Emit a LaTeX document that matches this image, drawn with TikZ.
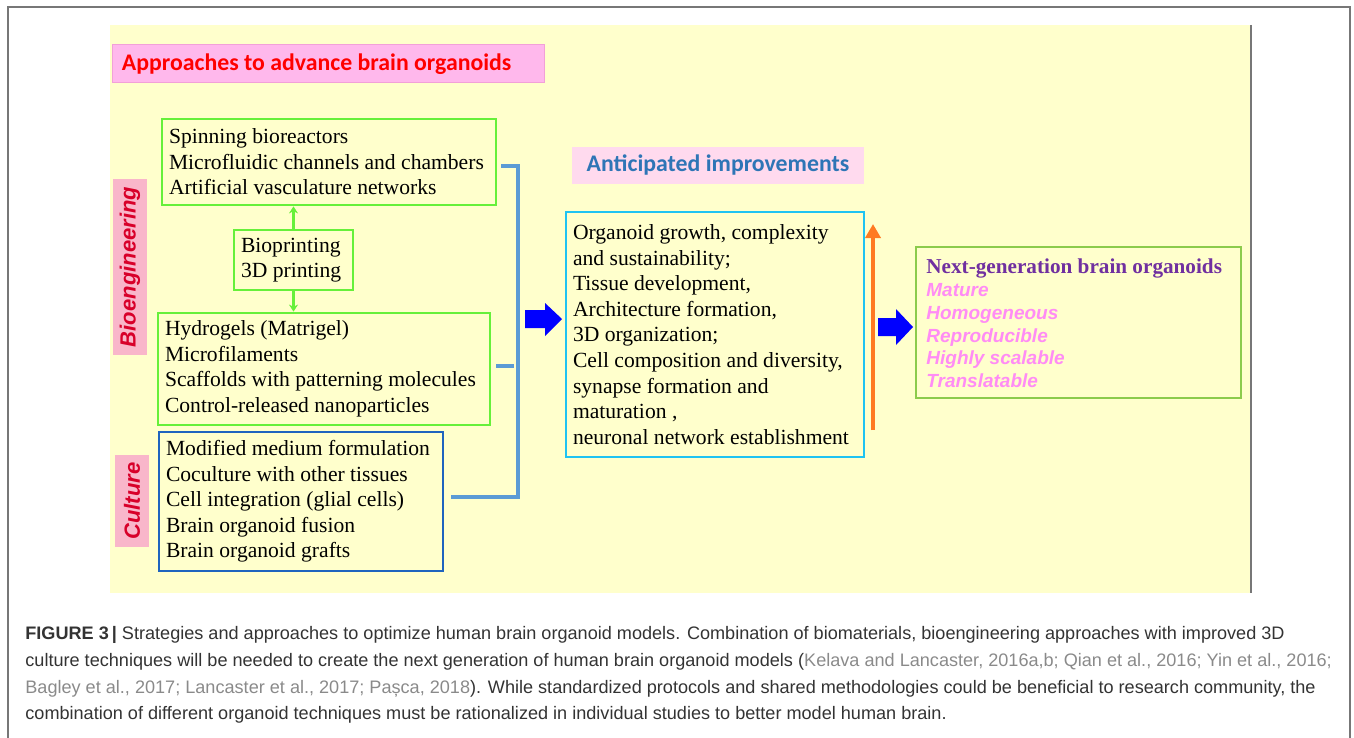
\documentclass[tikz,border=0pt]{standalone}
\usepackage{fontspec}
\setmainfont{Liberation Serif}
\newfontfamily\capfont{Liberation Sans}
\newfontfamily\calfont{Carlito}
\usetikzlibrary{fit,arrows.meta}
\definecolor{panelY}{HTML}{FFFFCC}
\definecolor{titlePink}{HTML}{FFB8EC}
\definecolor{titlePinkB}{HTML}{F2A0D8}
\definecolor{antPink}{HTML}{FFDAEE}
\definecolor{sidePink}{HTML}{F9B6CA}
\definecolor{sideRed}{HTML}{D8002A}
\definecolor{brightG}{HTML}{66F03A}
\definecolor{oliveG}{HTML}{8CCB4C}
\definecolor{cultB}{HTML}{1F64BE}
\definecolor{connB}{HTML}{5B9BD5}
\definecolor{cyanB}{HTML}{1FC3F2}
\definecolor{orangeA}{HTML}{FF7A22}
\definecolor{purpleT}{HTML}{7030A0}
\definecolor{pinkT}{HTML}{FF8CF5}
\definecolor{antBlue}{HTML}{2E75B6}
\definecolor{capDark}{HTML}{333333}
\definecolor{capGray}{HTML}{8A8A8A}
\definecolor{frameG}{HTML}{777777}
\tikzset{
  boxframe/.style={inner sep=0pt, line width=1.4pt},
  boxtxt/.style={anchor=west, align=left, inner sep=0pt, text=black,
    font=\fontsize{10.8}{12.8}\selectfont},
  conn/.style={draw=connB, line width=1.9pt},
  greenarrow/.style={draw=brightG, line width=1.1pt, -{Stealth[length=3.5pt,width=4.5pt]}},
  blockfill/.style={fill=blue, draw=none},
  sidelabel/.style={rotate=90, fill=sidePink, text=sideRed, inner sep=0pt,
    font=\capfont\bfseries\itshape\fontsize{11}{13}\selectfont},
  pinkline/.style={font=\capfont\bfseries\itshape\fontsize{9.5}{11.4}\selectfont, text=pinkT},
}
\begin{document}
\begin{tikzpicture}[x=0.5pt, y=-0.5pt]
\useasboundingbox (0,0) rectangle (1354,738);
% outer frame
\draw[frameG, line width=0.8pt] (8,745) -- (8,7) -- (1350,7) -- (1350,745);
% panel
\fill[panelY] (110,25) rectangle (1251,593);
\draw[frameG, line width=0.9pt] (1251,25) -- (1251,593);

% title
\node[boxframe, fill=titlePink, draw=titlePinkB, line width=0.5pt, fit={(112,45) (544,83)}] (ttl) {};
\node[anchor=west, inner sep=0pt, text=red, font=\calfont\bfseries\fontsize{11.9}{14}\selectfont] (ttlt) at ([xshift=5pt]ttl.west) {Approaches to advance brain organoids};

% side labels
\node[sidelabel, minimum width=88pt, minimum height=17pt] (bioeng) at (130,267) {Bioengineering};
\node[sidelabel, minimum width=46pt, minimum height=17pt] (cult) at (132,501) {Culture};

% box 1
\node[boxframe, draw=brightG, fit={(162,119) (496,205)}] (b1) {};
\node[boxtxt] (b1t) at ([xshift=4pt]b1.west) {Spinning bioreactors\\Microfluidic channels and chambers\\Artificial vasculature networks};
% bioprinting
\node[boxframe, draw=brightG, fit={(234,230) (353,290)}] (bp) {};
\node[boxtxt] (bpt) at ([xshift=4pt]bp.west) {Bioprinting\\3D printing};
% box 2
\node[boxframe, draw=brightG, fit={(158,313) (490,425)}] (b2) {};
\node[boxtxt] (b2t) at ([xshift=4pt]b2.west) {Hydrogels (Matrigel)\\Microfilaments\\Scaffolds with patterning molecules\\Control-released nanoparticles};
% culture box
\node[boxframe, draw=cultB, fit={(159,432) (443,571)}] (cb) {};
\node[boxtxt] (cbt) at ([xshift=4pt]cb.west) {Modified medium formulation\\Coculture with other tissues\\Cell integration (glial cells)\\Brain organoid fusion\\Brain organoid grafts};

\draw[greenarrow] (bp.north) -- (bp.north |- b1.south);
\draw[greenarrow] (bp.south) -- (bp.south |- b2.north);

% connectors
\coordinate (jt) at (518,166);
\coordinate (jb) at (518,497);
\coordinate (jm) at (514,366);
\draw[conn] ([xshift=2pt]b1.east |- jt) -- (jt) -- (jb) -- ([xshift=3.5pt]cb.east |- jb);
\draw[conn] ([xshift=2.5pt]b2.east |- jm) -- (jm);

% anticipated
\node[boxframe, fill=antPink, fit={(572,147) (864,184)}] (ant) {};
\node[inner sep=0pt, text=antBlue, font=\calfont\bfseries\fontsize{11.9}{14}\selectfont] (antt) at (ant.center) {Anticipated improvements};

% cyan box
\node[boxframe, draw=cyanB, fit={(566,212) (864,457)}] (ib) {};
\node[boxtxt] (ibt) at ([xshift=4pt]ib.west) {Organoid growth, complexity\\and sustainability;\\Tissue development,\\Architecture formation,\\3D organization;\\Cell composition and diversity,\\synapse formation and\\maturation ,\\neuronal network establishment};

% block arrow 1
\coordinate (ba1) at (525,319);
\fill[blockfill] (ba1) ++(0,-9) -- ++(20,0) -- ++(0,-7) -- (562,319) -- (545,336) -- ++(0,-8) -- ++(-20,0) -- cycle;

% orange arrow
\coordinate (ob) at (873,430);
\coordinate (ot) at (873,224);
\draw[orangeA, line width=2.4pt, -{Triangle[length=7pt,width=7.5pt]}] (ob) -- (ot);

% block arrow 2
\coordinate (ba2) at (878,327);
\fill[blockfill] (ba2) ++(0,-9) -- ++(18,0) -- ++(0,-9) -- (913,327) -- (896,345) -- ++(0,-9) -- ++(-18,0) -- cycle;

% next gen box
\node[boxframe, draw=oliveG, line width=1.2pt, fit={(916,247) (1241,398)}] (ng) {};
\node[anchor=north west, align=left, inner sep=0pt, text=purpleT, font=\bfseries\fontsize{10.6}{12}\selectfont] (ngt) at (926,258) {Next-generation brain organoids};
\node[anchor=north west, align=left, inner sep=0pt, pinkline] (ngl) at (926,283) {Mature\\Homogeneous\\Reproducible\\Highly scalable\\Translatable};

% caption
\node[anchor=north west, align=left, inner sep=0pt, text=capDark, font=\capfont\fontsize{9.05}{13.4}\selectfont] (cap) at (25,626) {%
\textbf{FIGURE 3\,|} Strategies and approaches to optimize human brain organoid models. Combination of biomaterials, bioengineering approaches with improved 3D\\
culture techniques will be needed to create the next generation of human brain organoid models (\textcolor{capGray}{Kelava and Lancaster, 2016a,b; Qian et al., 2016; Yin et al., 2016;}\\
\textcolor{capGray}{Bagley et al., 2017; Lancaster et al., 2017; Pașca, 2018}). While standardized protocols and shared methodologies could be beneficial to research community, the\\
combination of different organoid techniques must be rationalized in individual studies to better model human brain.};
\end{tikzpicture}
\end{document}
